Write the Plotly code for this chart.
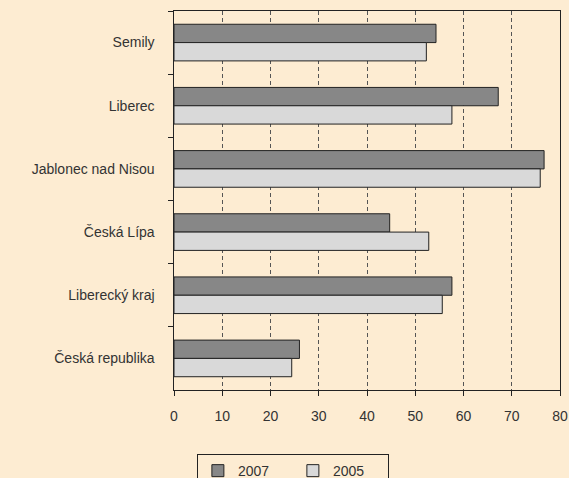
import plotly.graph_objects as go

categories = ["Semily", "Liberec", "Jablonec nad Nisou", "Česká Lípa", "Liberecký kraj", "Česká republika"]
values_2007 = [54.3, 67.2, 76.7, 44.7, 57.6, 26.0]
values_2005 = [52.3, 57.6, 75.9, 52.8, 55.6, 24.4]
x_ticks = [0, 10, 20, 30, 40, 50, 60, 70, 80]

bg = "#FDECD2"
fig = go.Figure()
fig.add_trace(go.Bar(y=categories, x=values_2007, name="2007", orientation="h",
                     marker=dict(color="#878787", line=dict(color="#222222", width=1))))
fig.add_trace(go.Bar(y=categories, x=values_2005, name="2005", orientation="h",
                     marker=dict(color="#D9D9D9", line=dict(color="#222222", width=1))))

fig.update_layout(
    width=569, height=478,
    paper_bgcolor=bg, plot_bgcolor=bg,
    margin=dict(l=174, r=9, t=11, b=88, autoexpand=False),
    barmode="group", bargap=0.42, bargroupgap=0,
    font=dict(family="Liberation Sans, Arial, sans-serif", size=14, color="#333333"),
    showlegend=True,
    legend=dict(orientation="h", x=0.308, xanchor="center", y=-0.169, yanchor="top",
                bgcolor=bg, bordercolor="#222222", borderwidth=1,
                font=dict(size=14, color="#333333"), itemwidth=30,
                entrywidth=50, traceorder="normal"),
    xaxis=dict(range=[0, 80], tickvals=x_ticks, ticks="outside", ticklen=5,
               tickcolor="#222222", showline=True, linecolor="#222222", mirror=True,
               showgrid=True, gridcolor="#555555", griddash="4px,3px", gridwidth=1,
               zeroline=False, fixedrange=True, automargin=False, ticklabelstandoff=8),
    yaxis=dict(autorange="reversed", ticks="outside", tickson="boundaries", ticklen=5,
               tickcolor="#222222", showline=True, linecolor="#222222", mirror=True,
               showgrid=False, ticksuffix="    ", automargin=False),
)
fig.write_html("out.html", config={"displayModeBar": False},
               post_script="document.body.style.margin='0';document.body.style.padding='0';document.body.style.background='" + bg + "';")
